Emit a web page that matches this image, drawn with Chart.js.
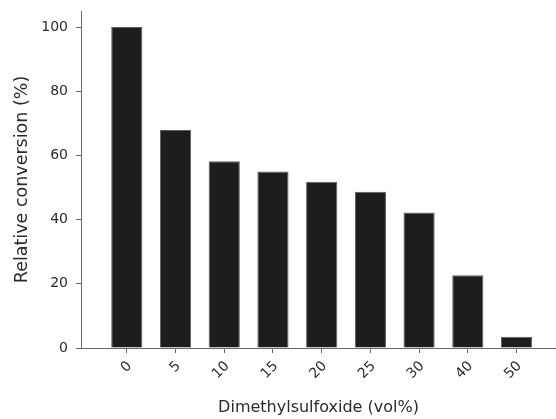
<!DOCTYPE html>
<html>
<head>
<meta charset="utf-8">
<script src="https://cdn.jsdelivr.net/npm/chart.js@4/dist/chart.umd.min.js"></script>
<style>
  html, body { margin: 0; padding: 0; background: #fff; }
  #wrap { width: 556px; height: 419px; }
</style>
</head>
<body>
<div id="wrap"><canvas id="chart"></canvas></div>
<script>
const doses = ['0', '5', '10', '15', '20', '25', '30', '40', '50'];
const conversion = [100, 67.9, 58.2, 55.0, 51.8, 48.7, 42.2, 22.7, 3.5];
const yTicks = [0, 20, 40, 60, 80, 100];

const axisColor = '#6a6a6a';
const textColor = '#2b2b2b';
const family = '"DejaVu Sans", sans-serif';

new Chart(document.getElementById('chart'), {
  type: 'bar',
  data: {
    datasets: [{
      data: doses.map((d, i) => ({ x: i, y: conversion[i] })),
      backgroundColor: '#1e1c1d',
      borderColor: '#5e5e5e',
      borderWidth: 1,
      categoryPercentage: 1,
      barPercentage: 0.64,
    }],
  },
  options: {
    animation: false,
    responsive: true,
    maintainAspectRatio: false,
    layout: { padding: { top: 11, left: 0, right: 0, bottom: 0 } },
    plugins: {
      legend: { display: false },
      tooltip: { enabled: false },
    },
    scales: {
      x: {
        type: 'linear',
        offset: false,
        min: -0.94,
        max: 8.81,
        afterBuildTicks(axis) {
          axis.ticks = doses.map((_, i) => ({ value: i }));
        },
        afterFit(axis) { axis.height = 71; },
        border: { display: true, color: axisColor, width: 1 },
        grid: {
          offset: false,
          drawOnChartArea: false,
          drawTicks: true,
          tickLength: 5,
          color: axisColor,
        },
        ticks: {
          minRotation: 45,
          maxRotation: 45,
          padding: 5,
          labelOffset: 3,
          color: textColor,
          font: { family, size: 14 },
          callback: (v) => doses[v] ?? '',
        },
        title: {
          display: true,
          text: 'Dimethylsulfoxide (vol%)',
          color: textColor,
          font: { family, size: 16 },
          padding: { top: 0, bottom: 2 },
        },
      },
      y: {
        min: 0,
        max: 105,
        afterBuildTicks(axis) {
          axis.ticks = yTicks.map(v => ({ value: v }));
        },
        afterFit(axis) {
          axis.width = 81;
          axis.paddingTop = 0;
          axis.paddingBottom = 0;
        },
        border: { display: true, color: axisColor, width: 1 },
        grid: {
          drawOnChartArea: false,
          drawTicks: true,
          tickLength: 5,
          color: axisColor,
        },
        ticks: {
          padding: 8,
          color: textColor,
          font: { family, size: 14, lineHeight: 0.5 },
        },
        title: {
          display: true,
          text: 'Relative conversion (%)',
          color: textColor,
          font: { family, size: 17.5 },
          padding: { top: 12, bottom: 0 },
        },
      },
    },
  },
});
</script>
</body>
</html>
